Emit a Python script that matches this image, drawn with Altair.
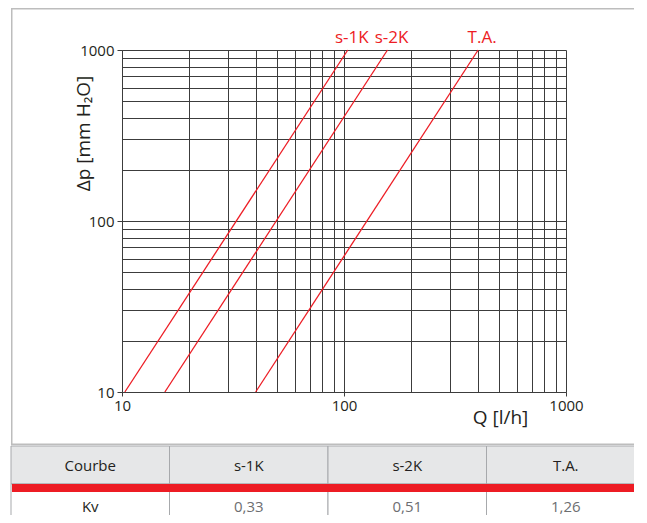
import altair as alt
import pandas as pd

# ---- data ----
series = ["s-1K", "s-2K", "T.A."]
q_start = [10.3, 15.6, 40.0]      # Q [l/h] at Δp = 10
q_end = [104.0, 157.0, 402.0]     # Q [l/h] at Δp = 1000
dp_start = [10, 10, 10]
dp_end = [1000, 1000, 1000]

grid_values = [10, 20, 30, 40, 50, 60, 70, 80, 90,
               100, 200, 300, 400, 500, 600, 700, 800, 900, 1000]
decades = [10, 100, 1000]

table_columns = ["Courbe", "s-1K", "s-2K", "T.A."]
table_rows = ["Courbe", "Kv"]
kv_row = ["Kv", "0,33", "0,51", "1,26"]

# ---- styles / layout (pixels relative to the plot origin) ----
FONT = "Open Sans"
RED = "#ed1c24"
GRID = "#3c3c3c"
TXT = "#231f20"
FRAME = "#bdbdbd"
CELL = "#a7a9ac"
W, H = 444, 342
LEFT = -111          # frame / table left edge
RIGHT = 523          # table column span right edge (clipped by page)
VIS_RIGHT = 516      # visible right border
TOP = -42            # frame top
BOTTOM = 395         # frame bottom (table start)

lines = pd.DataFrame({"series": series * 2, "q": q_start + q_end, "dp": dp_start + dp_end})
labels = pd.DataFrame({"series": series, "q": q_end, "dp": dp_end})

dec_test = " || ".join(f"datum.value == {d}" for d in decades)
tick_op = {"condition": {"test": dec_test, "value": 1}, "value": 0}
lab_expr = f"({dec_test}) ? format(datum.value, 'd') : ''"

xscale = alt.Scale(type="log", domain=[10, 1000], nice=False)
yscale = alt.Scale(type="log", domain=[10, 1000], nice=False)

x_axis = alt.Axis(values=grid_values, labelExpr=lab_expr, title="Q [l/h]",
    grid=True, gridColor=GRID, gridWidth=1, tickColor=GRID, tickSize=4, tickOpacity=tick_op,
    domainColor=GRID, labelFont=FONT, labelFontSize=15, labelColor=TXT, labelPadding=2,
    labelOverlap=False, labelFlush=False,
    titleFont=FONT, titleFontSize=19, titleFontWeight="normal", titleColor=TXT,
    titleX=378, titleY=25, titleAlign="center", titleBaseline="middle")
y_axis = alt.Axis(values=grid_values, labelExpr=lab_expr, title="Δp [mm H₂O]",
    grid=True, gridColor=GRID, gridWidth=1, tickColor=GRID, tickSize=5, tickOpacity=tick_op,
    domainColor=GRID, labelFont=FONT, labelFontSize=15, labelColor=TXT, labelPadding=3,
    labelOverlap=False, labelFlush=False,
    titleFont=FONT, titleFontSize=19, titleFontWeight="normal", titleColor=TXT,
    titleX=-39, titleY=83, titleAngle=270, titleAlign="center", titleBaseline="middle")

curves = alt.Chart(lines).mark_line(color=RED, strokeWidth=1.3).encode(
    x=alt.X("q:Q", scale=xscale, axis=x_axis),
    y=alt.Y("dp:Q", scale=yscale, axis=y_axis),
    detail="series:N",
)
curve_labels = alt.Chart(labels).mark_text(
    color=RED, font=FONT, fontSize=17, dy=-7, dx=4, baseline="alphabetic", align="center"
).encode(x=alt.X("q:Q", scale=xscale), y=alt.Y("dp:Q", scale=yscale), text="series:N")

one = pd.DataFrame({"k": [0]})
frame = alt.Chart(one).mark_rect(
    fillOpacity=0, stroke=FRAME, strokeWidth=1.5
).encode(
    x=alt.value(LEFT + 0.75), x2=alt.value(VIS_RIGHT - 0.75),
    y=alt.value(TOP + 0.75), y2=alt.value(BOTTOM - 0.75),
)

plot = alt.layer(frame, curves, curve_labels).properties(width=W, height=H)

# ---- table ----
TH = 76
tab = pd.DataFrame({
    "col": table_columns * 2,
    "row": ["Courbe"] * 4 + ["Kv"] * 4,
    "text": table_columns + kv_row,
    "kind": ["head"] * 4 + ["label"] + ["value"] * 3,
})
xt = alt.X("col:N", sort=table_columns, axis=None,
           scale=alt.Scale(paddingInner=0, paddingOuter=0, range=[LEFT, RIGHT]))
yt = alt.Y("row:N", sort=table_rows, axis=None,
           scale=alt.Scale(paddingInner=0, paddingOuter=0))

cells = alt.Chart(tab).mark_rect(stroke=CELL, strokeWidth=1).encode(
    x=xt, y=yt,
    fill=alt.Fill("row:N", scale=alt.Scale(domain=table_rows, range=["#e6e7e8", "#ffffff"]),
                  legend=None),
)
right_border = alt.Chart(one).mark_rule(color=CELL, strokeWidth=1).encode(
    x=alt.value(VIS_RIGHT - 0.5), y=alt.value(0), y2=alt.value(TH))
red_band = alt.Chart(pd.DataFrame({"row": ["Kv"]})).mark_rule(
    color=RED, strokeWidth=8, yOffset=4
).encode(
    y=alt.Y("row:N", sort=table_rows, axis=None, bandPosition=0,
            scale=alt.Scale(paddingInner=0, paddingOuter=0)),
    x=alt.value(LEFT + 1), x2=alt.value(VIS_RIGHT),
)
head_text = alt.Chart(tab[tab.row == "Courbe"]).mark_text(
    font=FONT, fontSize=15, color=TXT, baseline="middle", dy=1
).encode(x=xt, y=yt, text="text:N")
kv_text = alt.Chart(tab[tab.row == "Kv"]).mark_text(
    font=FONT, fontSize=15, baseline="middle", dy=4
).encode(
    x=xt, y=yt, text="text:N",
    color=alt.Color("kind:N", scale=alt.Scale(domain=["label", "value"], range=[TXT, "#6d6e71"]),
                    legend=None),
)
table = alt.layer(cells, right_border, red_band, head_text, kv_text).properties(width=W, height=TH)

chart = alt.vconcat(plot, table, spacing=0).properties(
    padding={"left": 0, "top": 0, "right": -12, "bottom": -8}
).configure_view(stroke=None).configure_concat(spacing=0)

chart.save("out.html", embed_options={"renderer": "svg", "actions": False})
